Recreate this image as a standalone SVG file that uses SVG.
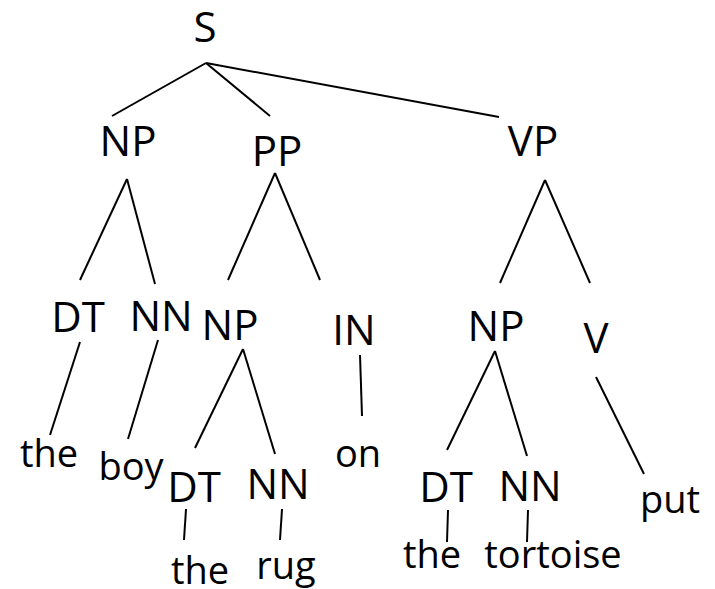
<svg xmlns="http://www.w3.org/2000/svg" width="715" height="589" viewBox="0 0 715 589">
<style>
.lab{font-family:"Open Sans","DejaVu Sans",sans-serif;font-size:42px;fill:#000;text-anchor:middle}
.w{font-family:"Open Sans","DejaVu Sans",sans-serif;font-size:38px;fill:#000;text-anchor:middle}
.e line{stroke:#000;stroke-width:2;stroke-linecap:butt}
</style>
<rect width="715" height="589" fill="#fff"/>
<g id="connectors" class="e">
<line x1="206" y1="63" x2="112" y2="116"/>
<line x1="206" y1="63" x2="270" y2="116"/>
<line x1="206" y1="63" x2="499" y2="117"/>
<line x1="127" y1="179" x2="80" y2="280"/>
<line x1="127" y1="179" x2="155" y2="284"/>
<line x1="275" y1="173" x2="228" y2="280"/>
<line x1="275" y1="173" x2="320" y2="280"/>
<line x1="545" y1="180" x2="500" y2="283"/>
<line x1="545" y1="180" x2="590" y2="283"/>
<line x1="80" y1="342" x2="50" y2="435"/>
<line x1="158" y1="340" x2="128" y2="439"/>
<line x1="243" y1="349" x2="195" y2="448"/>
<line x1="243" y1="349" x2="275" y2="454"/>
<line x1="360" y1="355" x2="362" y2="416"/>
<line x1="495" y1="351" x2="447" y2="450"/>
<line x1="495" y1="351" x2="527" y2="456"/>
<line x1="596" y1="377" x2="644" y2="474"/>
<line x1="186" y1="509" x2="184" y2="540"/>
<line x1="282" y1="509" x2="280" y2="540"/>
<line x1="448" y1="510" x2="447" y2="542"/>
<line x1="528" y1="510" x2="527" y2="542"/>
</g>
<g id="S"><text class="lab" x="205" y="42">S</text></g>
<g id="NP1"><text class="lab" x="128" y="156">NP</text></g>
<g id="PP"><text class="lab" x="277" y="166">PP</text></g>
<g id="VP"><text class="lab" x="533" y="156">VP</text></g>
<g id="DT1"><text class="lab" x="78" y="332">DT</text></g>
<g id="NN1"><text class="lab" x="161" y="331">NN</text></g>
<g id="NP2"><text class="lab" x="230" y="340">NP</text></g>
<g id="IN"><text class="lab" x="354" y="345">IN</text></g>
<g id="NP3"><text class="lab" x="496" y="341">NP</text></g>
<g id="V"><text class="lab" x="596" y="353">V</text></g>
<g id="DT2"><text class="lab" x="194" y="502">DT</text></g>
<g id="NN2"><text class="lab" x="278" y="499">NN</text></g>
<g id="DT3"><text class="lab" x="446" y="502">DT</text></g>
<g id="NN3"><text class="lab" x="530" y="501">NN</text></g>
<g id="the1"><text class="w" x="49" y="467">the</text></g>
<g id="boy"><text class="w" x="131" y="480">boy</text></g>
<g id="on"><text class="w" x="358" y="467">on</text></g>
<g id="the2"><text class="w" x="200" y="584">the</text></g>
<g id="rug"><text class="w" x="286" y="579">rug</text></g>
<g id="the3"><text class="w" x="432" y="568">the</text></g>
<g id="tortoise"><text class="w" x="553" y="568">tortoise</text></g>
<g id="put"><text class="w" x="670" y="513">put</text></g>
</svg>
